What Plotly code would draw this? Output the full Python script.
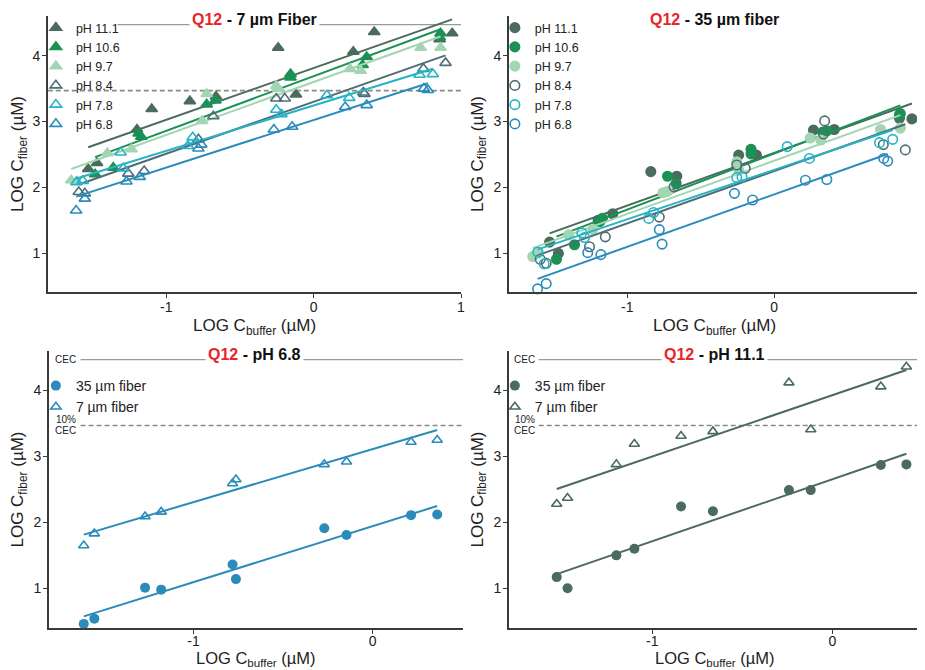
import plotly.graph_objects as go

# The page body has an 8px margin: the figure is sized so that it fills the 925x670 window.
OFF = 8
W, H = 925 - OFF, 670 - OFF
FONT = "Arial, 'Liberation Sans', sans-serif"

# ---------------- data ----------------
ph_names = ["pH 11.1", "pH 10.6", "pH 9.7", "pH 8.4", "pH 7.8", "pH 6.8"]

x_111 = [-1.530, -1.470, -1.199, -1.099, -0.840, -0.663, -0.241, -0.120, 0.269, 0.411, 0.855, 0.940]
y7_111 = [2.28, 2.37, 2.88, 3.19, 3.31, 3.38, 4.12, 3.41, 4.06, 4.36, 4.25, 4.34]
y35_111 = [1.17, 1.00, 1.50, 1.60, 2.24, 2.17, 2.49, 2.49, 2.87, 2.88, 3.05, 3.04]

x_106 = [-1.483, -1.360, -1.188, -1.170, -0.726, -0.667, -0.157, -0.157, 0.332, 0.360, 0.855, 0.861]
y7_106 = [2.20, 2.30, 2.82, 2.77, 3.26, 3.32, 3.72, 3.67, 3.86, 3.98, 4.28, 4.34]
y35_106 = [0.91, 1.13, 1.48, 1.53, 2.17, 2.06, 2.58, 2.51, 2.84, 2.86, 3.10, 3.12]

x_97 = [-1.645, -1.607, -1.400, -1.236, -0.757, -0.726, -0.254, -0.240, 0.247, 0.319, 0.726, 0.861]
y7_97 = [2.11, 2.09, 2.52, 2.58, 3.01, 3.42, 3.54, 3.50, 3.80, 3.77, 4.12, 4.12]
y35_97 = [0.95, 1.00, 1.28, 1.36, 1.92, 1.94, 2.39, 2.26, 2.75, 2.72, 2.88, 2.90]

x_84 = [-1.594, -1.553, -1.258, -1.150, -0.782, -0.681, -0.254, -0.196, 0.337, 0.345, 0.745, 0.895]
y7_84 = [1.93, 1.91, 2.21, 2.25, 2.73, 3.08, 3.35, 3.35, 3.44, 3.42, 3.80, 3.89]
y35_84 = [0.91, 0.85, 1.10, 1.25, 1.55, 2.01, 2.34, 2.29, 2.81, 3.01, 2.65, 2.57]

x_78 = [-1.610, -1.567, -1.310, -1.292, -0.854, -0.821, -0.254, -0.218, 0.090, 0.241, 0.719, 0.809]
y7_78 = [2.08, 2.10, 2.53, 2.29, 2.63, 2.76, 3.18, 3.11, 3.40, 3.36, 3.71, 3.72]
y35_78 = [1.02, 0.84, 1.31, 1.24, 1.53, 1.62, 2.15, 2.16, 2.62, 2.44, 2.68, 2.73]

x_68 = [-1.612, -1.553, -1.270, -1.180, -0.782, -0.763, -0.270, -0.146, 0.214, 0.360, 0.748, 0.775]
y7_68 = [1.65, 1.83, 2.09, 2.16, 2.59, 2.65, 2.88, 2.92, 3.22, 3.25, 3.50, 3.48]
y35_68 = [0.46, 0.54, 1.01, 0.98, 1.36, 1.14, 1.91, 1.81, 2.11, 2.12, 2.44, 2.40]

# linear-fit lines (slope, intercept)
fit7_slope = [0.786, 0.828, 0.802, 0.787, 0.689, 0.721]
fit7_intercept = [3.812, 3.688, 3.600, 3.300, 3.244, 3.023]
fit35_slope = [0.798, 0.850, 0.805, 0.794, 0.749, 0.794]
fit35_intercept = [2.523, 2.514, 2.404, 2.249, 2.266, 1.893]
fit_ph68_slope = [0.805, 0.849]       # 7 um, 35 um
fit_ph68_intercept = [3.112, 1.943]
fit_ph111_slope = [0.931, 0.941]
fit_ph111_intercept = [3.930, 2.655]

CEC_LOG = 4.47
CEC10_LOG = 3.47
BOTTOM_XMAX = 0.5

xs = [x_111, x_106, x_97, x_84, x_78, x_68]
y7s = [y7_111, y7_106, y7_97, y7_84, y7_78, y7_68]
y35s = [y35_111, y35_106, y35_97, y35_84, y35_78, y35_68]

# ---------------- styles ----------------
colors = ["#4b6b5c", "#1c9155", "#a3d5b2", "#4e6d76", "#25b3c6", "#2b8bbb"]
filled = [True, True, True, False, False, False]
RED = "#e8262a"
AX = "#3a3a3a"

fig = go.Figure()


def fit_line(x, slope, intercept):
    xl = [min(x), max(x)]
    return xl, [slope * v + intercept for v in xl]


# Panel 1 (7 um) and Panel 2 (35 um)
for i in range(6):
    sym_t = "triangle-up" if filled[i] else "triangle-up-open"
    sym_c = "circle" if filled[i] else "circle-open"
    mk_t = dict(symbol=sym_t, size=10, color=colors[i], line=dict(width=1.6, color=colors[i]))
    mk_c = dict(symbol=sym_c, size=9.5, color=colors[i], line=dict(width=1.6, color=colors[i]))
    fig.add_trace(go.Scatter(x=xs[i], y=y7s[i], mode="markers", marker=mk_t, name=ph_names[i],
                             xaxis="x", yaxis="y", legend="legend", cliponaxis=False))
    lx, ly = fit_line(xs[i], fit7_slope[i], fit7_intercept[i])
    fig.add_trace(go.Scatter(x=lx, y=ly, mode="lines", line=dict(color=colors[i], width=2),
                             xaxis="x", yaxis="y", showlegend=False, hoverinfo="skip"))
    fig.add_trace(go.Scatter(x=xs[i], y=y35s[i], mode="markers", marker=mk_c, name=ph_names[i],
                             xaxis="x2", yaxis="y2", legend="legend2", cliponaxis=False))
    lx, ly = fit_line(xs[i], fit35_slope[i], fit35_intercept[i])
    fig.add_trace(go.Scatter(x=lx, y=ly, mode="lines", line=dict(color=colors[i], width=2),
                             xaxis="x2", yaxis="y2", showlegend=False, hoverinfo="skip"))


def bottom_panel(x, y35, y7, slopes, intercepts, color, xa, ya, leg):
    keep = [k for k, v in enumerate(x) if v < BOTTOM_XMAX]
    xb = [x[k] for k in keep]
    y35b = [y35[k] for k in keep]
    y7b = [y7[k] for k in keep]
    fig.add_trace(go.Scatter(x=xb, y=y35b, mode="markers", name="35 µm fiber",
                             marker=dict(symbol="circle", size=10, color=color),
                             xaxis=xa, yaxis=ya, legend=leg))
    fig.add_trace(go.Scatter(x=xb, y=y7b, mode="markers", name="7 µm fiber",
                             marker=dict(symbol="triangle-up-open", size=9, color=color,
                                         line=dict(width=1.6, color=color)),
                             xaxis=xa, yaxis=ya, legend=leg))
    for yy, s, b in [(y35b, slopes[1], intercepts[1]), (y7b, slopes[0], intercepts[0])]:
        lx, ly = fit_line(xb, s, b)
        fig.add_trace(go.Scatter(x=lx, y=ly, mode="lines", line=dict(color=color, width=2),
                                 xaxis=xa, yaxis=ya, showlegend=False, hoverinfo="skip"))


bottom_panel(x_68, y35_68, y7_68, fit_ph68_slope, fit_ph68_intercept, colors[5], "x3", "y3", "legend3")
bottom_panel(x_111, y35_111, y7_111, fit_ph111_slope, fit_ph111_intercept, colors[0], "x4", "y4", "legend4")


# ---------------- layout (positions given in window pixels) ----------------
def px(v):
    return (v - OFF) / W


def py(v):
    return 1 - (v - OFF) / H


def xd(a, b):
    return [px(a), min(1.0, px(b))]


def yd(top, bottom):
    return [py(bottom), py(top)]


def xax(domain, rng, anchor, ticks, standoff):
    return dict(domain=domain, range=rng, anchor=anchor, showgrid=False, zeroline=False,
                showline=True, linecolor=AX, linewidth=1.5, ticks="outside", ticklen=4,
                tickcolor=AX, tickwidth=1.2, tickvals=ticks, ticklabelstandoff=standoff,
                ticktext=[str(t) if t >= 0 else "-" + str(-t) for t in ticks],
                tickfont=dict(size=14, color="#222", family=FONT))


def yax(domain, rng, anchor):
    return dict(domain=domain, range=rng, anchor=anchor, showgrid=False, zeroline=False,
                showline=True, linecolor=AX, linewidth=1.5, ticks="outside", ticklen=4,
                tickcolor=AX, tickwidth=1.2, tickvals=[1, 2, 3, 4], ticklabelstandoff=-1,
                tickfont=dict(size=14, color="#222", family=FONT),
                title=dict(text="LOG C<sub>fiber</sub> (µM)", font=dict(size=17, color="#222", family=FONT),
                           standoff=6))


def legend(xpx, ypx, size):
    return dict(x=px(xpx), y=py(ypx), xanchor="left", yanchor="top", bgcolor="rgba(0,0,0,0)",
                font=dict(size=size, color="#222", family=FONT), itemwidth=30, tracegroupgap=0,
                borderwidth=0)


fig.update_layout(
    width=W, height=H, margin=dict(l=0, r=0, t=0, b=0),
    paper_bgcolor="white", plot_bgcolor="white",
    font=dict(family=FONT, color="#222"),
    xaxis=xax(xd(48, 463), [-1.804, 1.0], "y", [-1, 0, 1], -3),
    yaxis=yax(yd(16, 292), [0.413, 4.602], "x"),
    xaxis2=xax(xd(511, 925), [-1.808, 1.002], "y2", [-1, 0, 1], -3),
    yaxis2=yax(yd(16, 292), [0.413, 4.602], "x2"),
    xaxis3=xax(xd(49, 465), [-1.807, 0.504], "y3", [-1, 0], -5),
    yaxis3=yax(yd(351, 628), [0.398, 4.60], "x3"),
    xaxis4=xax(xd(511, 925), [-1.796, 0.492], "y4", [-1, 0], -5),
    yaxis4=yax(yd(351, 628), [0.398, 4.60], "x4"),
    legend=legend(36, 13, 12.5),
    legend2=legend(497, 13, 12.5),
    legend3=legend(36, 370, 14),
    legend4=legend(497, 370, 14),
    showlegend=True,
)

shapes = []
# CEC and 10% CEC reference lines
shapes.append(dict(type="line", xref="x", yref="y", x0=-1.33, x1=1.0, y0=CEC_LOG, y1=CEC_LOG,
                   line=dict(color="#9a9a9a", width=1.2), layer="below"))
shapes.append(dict(type="line", xref="x", yref="y", x0=-1.804, x1=1.0, y0=CEC10_LOG, y1=CEC10_LOG,
                   line=dict(color="#8a8a8a", width=1.6, dash="5px,3px"), layer="below"))
for xa, ya, xmin, xmax in [("x3", "y3", -1.63, 0.504), ("x4", "y4", -1.63, 0.492)]:
    shapes.append(dict(type="line", xref=xa, yref=ya, x0=xmin, x1=xmax, y0=CEC_LOG, y1=CEC_LOG,
                       line=dict(color="#9a9a9a", width=1.2), layer="below"))
    shapes.append(dict(type="line", xref=xa, yref=ya, x0=xmin, x1=xmax, y0=CEC10_LOG, y1=CEC10_LOG,
                       line=dict(color="#8a8a8a", width=1.6, dash="5px,3px"), layer="below"))
fig.update_layout(shapes=shapes)


def title(xpx, ypx, rest):
    return dict(x=px(xpx), y=py(ypx), xref="paper", yref="paper", xanchor="center", yanchor="middle",
                showarrow=False, bgcolor="white", borderpad=2,
                text=f"<b><span style='color:{RED}'>Q12</span> - {rest}</b>",
                font=dict(size=16, color="#111", family=FONT))


def small(xpx, ypx, txt):
    return dict(x=px(xpx), y=py(ypx), xref="paper", yref="paper", xanchor="center", yanchor="middle",
                showarrow=False, text=txt, font=dict(size=10, color="#222", family=FONT))


def xtitle(xpx, ypx, size):
    return dict(x=px(xpx), y=py(ypx), xref="paper", yref="paper", xanchor="center", yanchor="middle",
                showarrow=False, text="LOG C<sub>buffer</sub> (µM)", borderpad=0,
                font=dict(size=size, color="#222", family=FONT))


annotations = [
    title(256, 20, "7 µm Fiber"),
    title(718, 20, "35 µm fiber"),
    title(256, 354, "pH 6.8"),
    title(718, 354, "pH 11.1"),
    xtitle(256, 327, 17), xtitle(718, 327, 17), xtitle(257, 659, 16.5), xtitle(718, 659, 16.5),
    small(66, 359, "CEC"), small(66, 419, "10%"), small(66, 431, "CEC"),
    small(527, 359, "CEC"), small(527, 419, "10%"), small(527, 431, "CEC"),
]
fig.update_layout(annotations=annotations)

fig.write_html("out.html")
